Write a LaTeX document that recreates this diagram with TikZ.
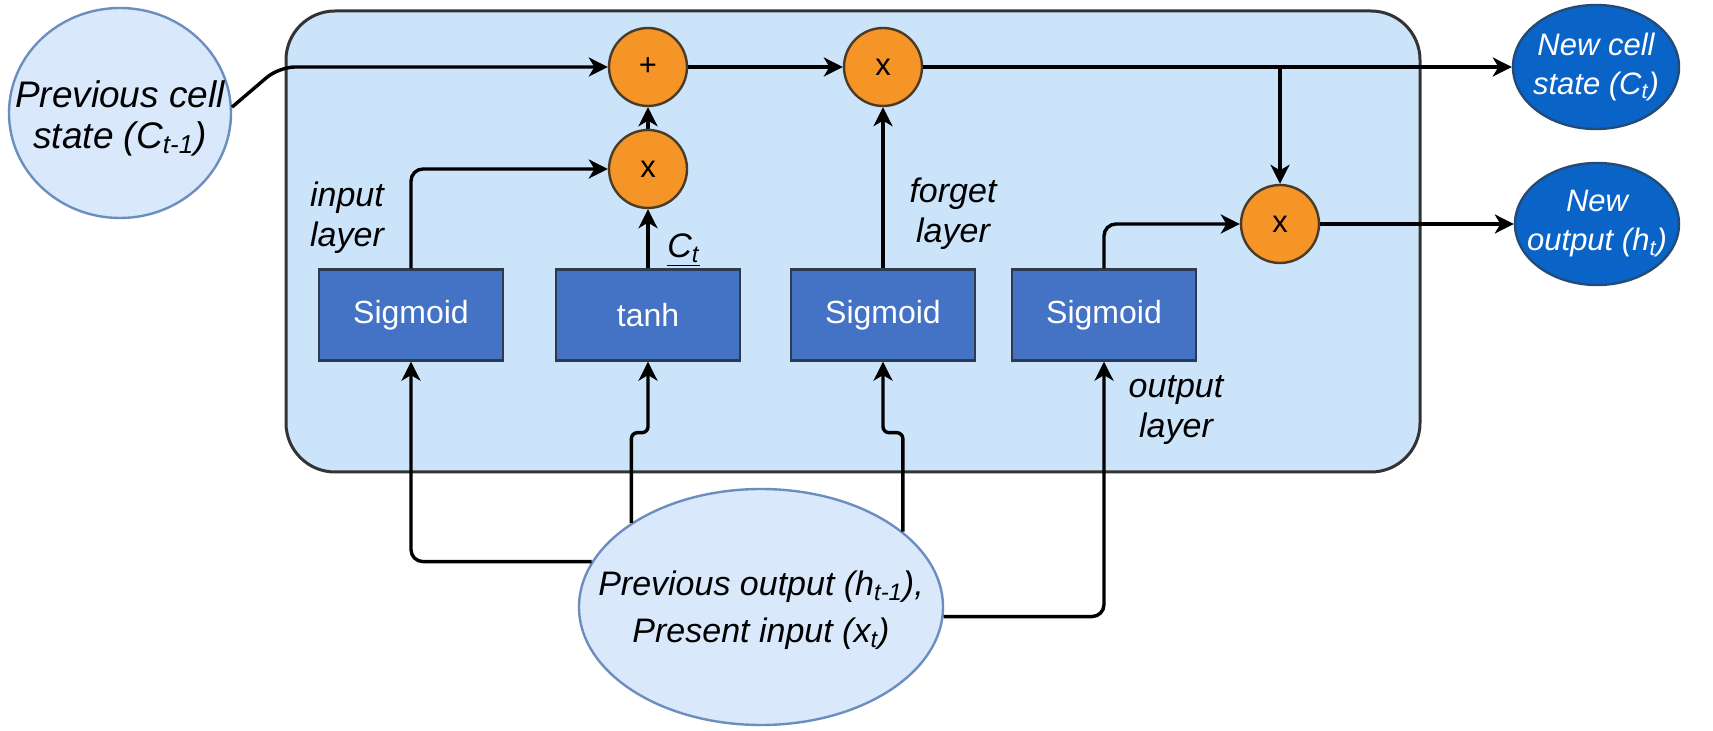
\documentclass[tikz,border=0pt]{standalone}
\usepackage{fontspec}
\setmainfont{Liberation Sans}
\usetikzlibrary{arrows.meta,shapes.geometric,calc}

\definecolor{cellbg}{HTML}{CCE4F9}
\definecolor{cellborder}{HTML}{333333}
\definecolor{opfill}{HTML}{F59427}
\definecolor{opborder}{HTML}{4A3A2A}
\definecolor{gatefill}{HTML}{4472C4}
\definecolor{gateborder}{HTML}{2E3A4E}
\definecolor{infill}{HTML}{DAE8FC}
\definecolor{inborder}{HTML}{6C8EBF}
\definecolor{outfill}{HTML}{0A64C8}
\definecolor{outborder}{HTML}{234B78}

\begin{document}
\begin{tikzpicture}[x=0.5pt,y=-0.5pt,
  arr/.style={line width=1.7pt, -{Stealth[length=9.5pt,width=9.5pt,inset=2.8pt]}},
  op/.style={circle, draw=opborder, fill=opfill, line width=1.2pt, minimum size=39pt,
    inner sep=0pt, font=\fontsize{15.5}{18}\selectfont},
  gate/.style={rectangle, draw=gateborder, fill=gatefill, line width=1.2pt,
    minimum width=92pt, minimum height=45.5pt, text=white, font=\fontsize{16}{19}\selectfont},
  inp/.style={ellipse, draw=inborder, fill=infill, line width=1.2pt, inner sep=0pt},
  outp/.style={ellipse, draw=outborder, fill=outfill, line width=1.2pt, inner sep=0pt},
  intext/.style={align=center, inner sep=0pt, font=\fontsize{17}{23.5}\selectfont\itshape},
  outtext/.style={align=center, inner sep=0pt, text=white, font=\fontsize{15.5}{19.5}\selectfont\itshape},
  lbl/.style={align=center, inner sep=0pt, font=\fontsize{17}{20}\selectfont\itshape},
]
\useasboundingbox (0,0) rectangle (1713,731);
\fill[white] (0,0) rectangle (1713,731);

% LSTM cell body
\node[rectangle, rounded corners=24.5pt, draw=cellborder, fill=cellbg, line width=1.5pt,
  minimum width=567pt, minimum height=230.5pt] (cell) at (853,241.5) {};

% external states
\node[inp, minimum width=111pt, minimum height=105pt,
  label={[intext, font=\fontsize{18.5}{20.5}\selectfont\itshape, yshift=-2.5pt]center:Previous cell\\state (C\textsubscript{t-1})}] (prev) at (120,113) {};
\node[inp, minimum width=182pt, minimum height=118pt,
  label={[intext, yshift=-1.5pt]center:Previous output (h\textsubscript{t-1}),\\Present input (x\textsubscript{t})}] (bot) at (761,607) {};
\node[outp, minimum width=83pt, minimum height=62pt,
  label={[outtext]center:New cell\\state (C\textsubscript{t})}] (newc) at (1596,67) {};
\node[outp, minimum width=82pt, minimum height=61pt,
  label={[outtext]center:New\\output (h\textsubscript{t})}] (newo) at (1597,224) {};

% pointwise operations
\node[op] (plus) at (648,67) {+};
\node[op] (ix)   at (648,169) {x};
\node[op] (fgt)  at (883,67) {x};
\node[op] (outx) at (1280,224) {x};

% gate layers
\node[gate] (sig1) at (411,315) {Sigmoid};
\node[gate] (tanh) at (648,315) {tanh};
\node[gate] (sig2) at (883,315) {Sigmoid};
\node[gate] (sig3) at (1104,315) {Sigmoid};

% labels
\node[lbl] (linput)  at (347,218) {input\\layer};
\node[lbl] (lforget) at (953,214) {forget\\layer};
\node[lbl] (loutput) at (1176,410) {output\\layer};
\node[lbl, anchor=west] (lct) at (667,250) {\underline{C\textsubscript{t}}};

% cell state path
\draw[arr, rounded corners=8pt] (prev.3) -- (279,67) -- (plus);
\draw[arr] (plus) -- (fgt);
\draw[arr] (fgt) -- (newc);
\draw[arr] (fgt -| outx) -- (outx);

% gate outputs
\draw[arr] (ix) -- (plus);
\draw[arr, rounded corners=6pt] (sig1.north) |- (ix);
\draw[arr] (tanh) -- (ix);
\draw[arr] (sig2) -- (fgt);
\draw[arr, rounded corners=6pt] (sig3.north) |- (outx);
\draw[arr] (outx) -- (newo);

% inputs to the gates
\draw[arr, rounded corners=6pt] (bot.165.4) -| (sig1.south);
\draw[arr, rounded corners=3pt] (bot.147.4) |- ($(tanh.south)+(0,71)$) -- (tanh.south);
\draw[arr, rounded corners=3pt] (bot.28) |- ($(sig2.south)+(0,71)$) -- (sig2.south);
\draw[arr, rounded corners=6pt] (bot.-3.2) -| (sig3.south);
\end{tikzpicture}
\end{document}
